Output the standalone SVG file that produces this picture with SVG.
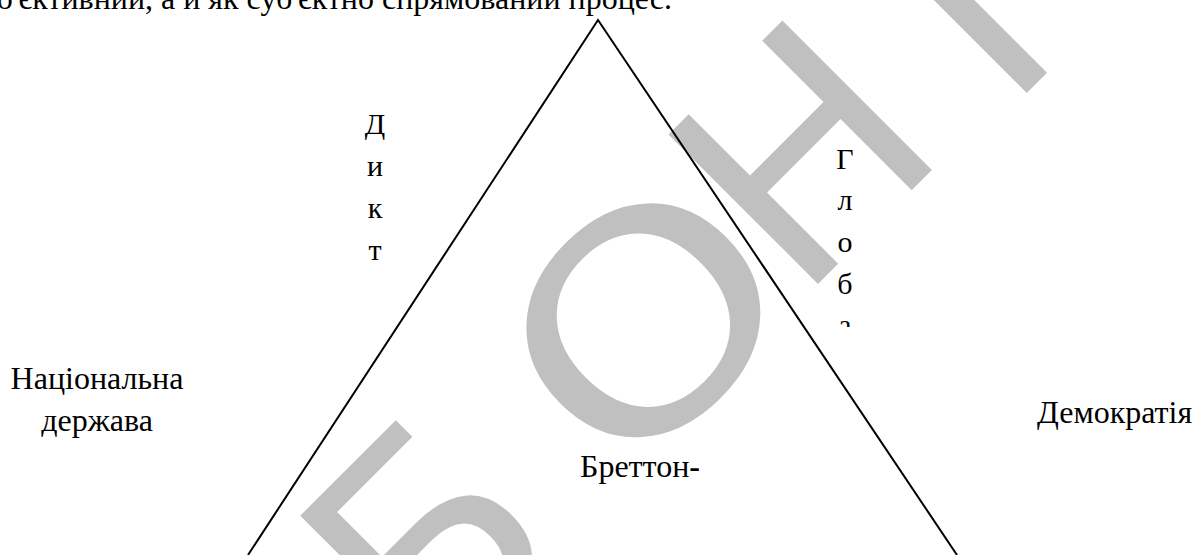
<svg xmlns="http://www.w3.org/2000/svg" width="1193" height="555" viewBox="0 0 1193 555">
  <style>
    .lbl { font-size: 32px; fill: #000; }
    .vert { font-size: 30px; fill: #000; text-anchor: middle; }
    .wm { font-family: 'DejaVu Sans', sans-serif; font-size: 290px; fill: #c0c0c0; text-anchor: middle; }
    .edge { fill: none; stroke: #000; stroke-width: 2; }
  </style>
  <defs>
    <clipPath id="clipGlob">
      <rect x="800" y="100" width="100" height="227"/>
    </clipPath>
  </defs>
  <rect width="1193" height="555" fill="#fff"/>

  <g id="watermark">
    <text class="wm" transform="translate(425,540) rotate(-45)" y="106">Б</text>
    <text class="wm" transform="translate(643,320) rotate(-45) scale(1.2,1)" y="106">О</text>
    <text class="wm" transform="translate(800,152) rotate(-45)" y="106">Н</text>
    <text class="wm" transform="translate(962,8) rotate(-45)" y="106">І</text>
  </g>

  <g id="labels" font-family="Liberation Serif, Times New Roman, serif">
    <g id="top-text">
      <text class="lbl" x="672" y="9" text-anchor="end">об'єктивний, а й як суб'єктно спрямований процес.</text>
    </g>

    <g id="node-dykt">
      <text class="vert" x="375" y="134">Д</text>
      <text class="vert" x="375" y="176">и</text>
      <text class="vert" x="375" y="218">к</text>
      <text class="vert" x="375" y="260">т</text>
    </g>

    <g id="node-globa" clip-path="url(#clipGlob)">
      <text class="vert" x="845" y="169">Г</text>
      <text class="vert" x="845" y="210">л</text>
      <text class="vert" x="845" y="252">о</text>
      <text class="vert" x="845" y="294">б</text>
      <text class="vert" x="845" y="335">а</text>
    </g>

    <g id="node-national-state">
      <text class="lbl" x="97" y="389" text-anchor="middle">Національна</text>
      <text class="lbl" x="97" y="431" text-anchor="middle">держава</text>
    </g>

    <g id="node-democracy">
      <text class="lbl" x="1037" y="423">Демократія</text>
    </g>

    <g id="node-bretton">
      <text class="lbl" x="580" y="477">Бреттон<tspan font-weight="bold">-</tspan></text>
    </g>
  </g>

  <g id="connectors">
    <polyline class="edge" points="248,555 598,20 957,555"/>
  </g>
</svg>
